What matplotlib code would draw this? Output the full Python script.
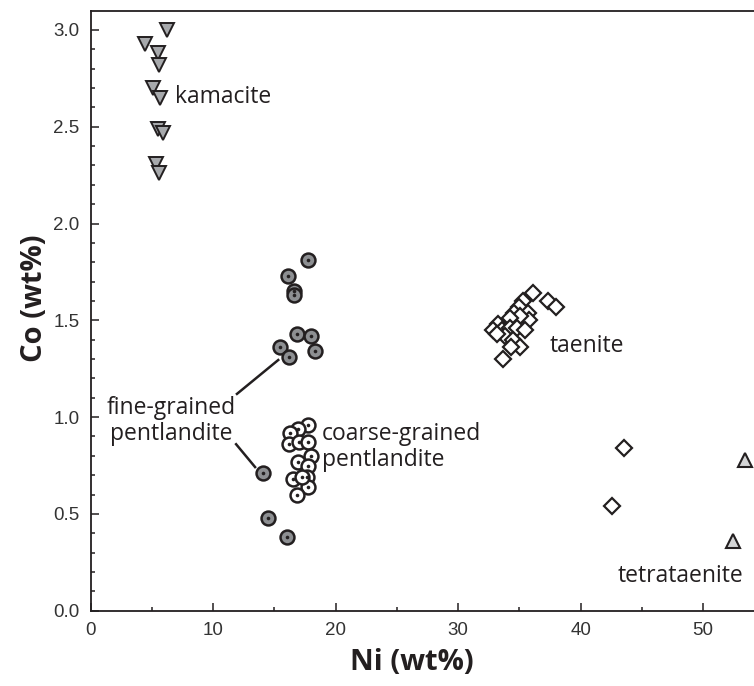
import matplotlib.pyplot as plt
from matplotlib.ticker import MultipleLocator

# data (Ni wt%, Co wt%)
kam_ni = [6.20, 4.43, 5.52, 5.60, 5.11, 5.66, 5.52, 5.93, 5.33, 5.60]
kam_co = [3.00, 2.93, 2.88, 2.82, 2.70, 2.65, 2.49, 2.47, 2.31, 2.26]

fine_ni = [17.76, 16.08, 16.62, 16.60, 16.87, 17.96, 18.33, 15.45, 16.21, 14.09, 14.50, 16.00]
fine_co = [1.81, 1.73, 1.65, 1.63, 1.43, 1.42, 1.34, 1.36, 1.31, 0.71, 0.48, 0.38]

coarse_ni = [17.76, 16.95, 16.27, 16.21, 17.03, 17.76, 17.96, 16.95, 17.76, 17.63, 16.54, 17.76, 16.82, 17.22]
coarse_co = [0.96, 0.94, 0.92, 0.86, 0.87, 0.87, 0.80, 0.77, 0.75, 0.69, 0.68, 0.64, 0.60, 0.69]

tae_ni = [36.13, 37.36, 37.98, 35.31, 34.99, 34.58, 35.72, 35.80, 35.05, 34.23, 33.27,
          32.87, 33.55, 34.23, 34.78, 35.45, 33.82, 34.45, 35.05, 34.29, 33.68, 33.14,
          43.56, 42.53]
tae_co = [1.64, 1.60, 1.57, 1.60, 1.57, 1.54, 1.54, 1.50, 1.52, 1.51, 1.48,
          1.45, 1.45, 1.46, 1.46, 1.45, 1.42, 1.40, 1.36, 1.36, 1.30, 1.43,
          0.84, 0.54]

tetra_ni = [53.41, 52.46]
tetra_co = [0.78, 0.36]

dark = '#231f20'
plt.rcParams['font.family'] = ['Open Sans', 'DejaVu Sans']

fig = plt.figure(figsize=(7.54, 6.86), dpi=100)
ax = fig.add_axes([90.7/754, (686-610.7)/686, (754-90.7)/754, (610.7-11)/686])

ax.plot(kam_ni, kam_co, 'v', ms=9.5, mfc='#a7a9ac', mec=dark, mew=1.4, ls='none')
ax.plot(tae_ni, tae_co, 'D', ms=8.5, mfc='white', mec=dark, mew=1.6, ls='none')
ax.plot(tetra_ni, tetra_co, '^', ms=10.5, mfc='#d4d5d6', mec=dark, mew=1.5, ls='none')
ax.plot(coarse_ni, coarse_co, 'o', ms=10, mfc='white', mec=dark, mew=1.8, ls='none')
ax.plot(coarse_ni, coarse_co, 'o', ms=2.6, mfc=dark, mec=dark, mew=0, ls='none')
ax.plot(fine_ni, fine_co, 'o', ms=10, mfc='#8d8f92', mec=dark, mew=1.8, ls='none')
ax.plot(fine_ni, fine_co, 'o', ms=2.6, mfc=dark, mec=dark, mew=0, ls='none')

# leader lines for fine-grained pentlandite
ax.plot([11.94, 15.31], [1.12, 1.295], c=dark, lw=1.8)
ax.plot([11.87, 13.42], [0.86, 0.742], c=dark, lw=1.8)

fs = 16.5
ax.text(6.88, 2.652, 'kamacite', fontsize=fs, color=dark, va='center', ha='left')
ax.text(37.5, 1.37, 'taenite', fontsize=fs, color=dark, va='center', ha='left')
ax.text(6.57, 0.98, 'fine-grained\npentlandite', fontsize=fs, color=dark,
        va='center', ha='center', linespacing=1.1)
ax.text(18.86, 0.845, 'coarse-grained\npentlandite', fontsize=fs, color=dark,
        va='center', ha='left', linespacing=1.1)
ax.text(53.25, 0.18, 'tetrataenite', fontsize=fs, color=dark, va='center', ha='right')

ax.set_xlim(0, 54.15)
ax.set_ylim(0, 3.098)
ax.xaxis.set_major_locator(MultipleLocator(10))
ax.xaxis.set_minor_locator(MultipleLocator(5))
ax.yaxis.set_major_locator(MultipleLocator(0.5))
ax.yaxis.set_minor_locator(MultipleLocator(0.1))
ax.yaxis.set_major_formatter(plt.FormatStrFormatter('%.1f'))
ax.tick_params(which='both', direction='in', color=dark, width=1.1,
               labelcolor='#333333', labelsize=13.5)
ax.tick_params(which='major', length=6)
ax.tick_params(which='minor', length=3)
ax.tick_params(axis='x', pad=8)
ax.tick_params(axis='y', pad=8)
for lab in ax.get_xticklabels() + ax.get_yticklabels():
    lab.set_fontfamily('Liberation Sans')
for s in ['left', 'bottom', 'top']:
    ax.spines[s].set_color(dark)
    ax.spines[s].set_linewidth(1.3)
ax.spines['right'].set_visible(False)

fig.text(412/754, 1-662/686, 'Ni (wt%)', fontsize=21, fontweight='bold',
         color=dark, ha='center', va='center')
fig.text(35/754, 1-298/686, 'Co (wt%)', fontsize=21, fontweight='bold',
         color=dark, ha='center', va='center', rotation=90)

fig.savefig('out.png', dpi=100)
